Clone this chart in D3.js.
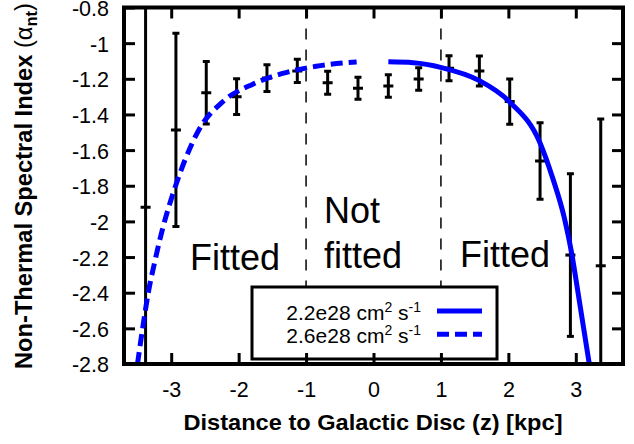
<!DOCTYPE html>
<html><head><meta charset="utf-8">
<script src="https://cdn.jsdelivr.net/npm/d3@7"></script>
<style>
html,body{margin:0;padding:0;background:#fff;}
svg{display:block;font-family:"Liberation Sans",Arial,Helvetica,sans-serif;}
</style>
</head><body>
<svg id="chart" width="634" height="444"></svg>
<script>
// ---- data ----
const zPos      = [-3.38, -2.93, -2.48, -2.03, -1.58, -1.13, -0.68, -0.23, 0.22, 0.67, 1.12, 1.57, 2.02, 2.47, 2.92, 3.37];
const alphaVal  = [-1.92, -1.487, -1.278, -1.300, -1.196, -1.156, -1.222, -1.253, -1.240, -1.201, -1.141, -1.156, -1.328, -1.661, -2.189, -2.249];
const alphaErr  = [1.20, 0.542, 0.175, 0.100, 0.075, 0.065, 0.065, 0.062, 0.063, 0.063, 0.070, 0.084, 0.127, 0.215, 0.456, 0.823];

// model curves
const fit22z = [0.22, 0.59, 1.01, 1.57, 2.02, 2.47, 2.66, 2.83, 2.93, 3.05, 3.20];
const fit22a = [-1.105, -1.110, -1.137, -1.210, -1.330, -1.560, -1.760, -1.980, -2.160, -2.440, -2.800];
const fit26z = [-3.50, -3.42, -3.34, -3.24, -3.12, -2.97, -2.80, -2.58, -2.24, -1.79, -1.35, -0.85, -0.25];
const fit26a = [-2.80, -2.59, -2.40, -2.22, -2.03, -1.84, -1.66, -1.48, -1.33, -1.23, -1.17, -1.13, -1.105];

const xTicks = [-3, -2, -1, 0, 1, 2, 3];
const yTicks = [-0.8, -1, -1.2, -1.4, -1.6, -1.8, -2, -2.2, -2.4, -2.6, -2.8];
const regionBounds = [-1, 1];
const legendLabels = ["2.2e28", "2.6e28"];

// ---- layout ----
const L = 124, R = 623, T = 7.5, B = 364;
const svg = d3.select("#chart");
const x = d3.scaleLinear().domain([-3.7, 3.7]).range([L, R]);
const y = d3.scaleLinear().domain([-2.8, -0.8]).range([B, T]);

svg.append("defs").append("clipPath").attr("id", "clip")
  .append("rect").attr("x", L).attr("y", T).attr("width", R - L).attr("height", B - T);

const plot = svg.append("g").attr("clip-path", "url(#clip)");

// region boundaries
plot.selectAll("line.bound").data(regionBounds).enter().append("line")
  .attr("x1", d => x(d)).attr("x2", d => x(d)).attr("y1", T).attr("y2", B)
  .attr("stroke", "#000").attr("stroke-width", 1.5).attr("stroke-dasharray", "11,10");

// error bars
const pts = zPos.map((z, i) => ({z, a: alphaVal[i], e: alphaErr[i]}));
const eb = plot.selectAll("g.eb").data(pts).enter().append("g")
  .attr("stroke", "#000").attr("stroke-width", 3);
eb.append("line").attr("x1", d => x(d.z)).attr("x2", d => x(d.z))
  .attr("y1", d => y(d.a + d.e)).attr("y2", d => y(d.a - d.e));
eb.append("line").attr("x1", d => x(d.z) - 3.5).attr("x2", d => x(d.z) + 3.5)
  .attr("y1", d => y(d.a + d.e)).attr("y2", d => y(d.a + d.e));
eb.append("line").attr("x1", d => x(d.z) - 3.5).attr("x2", d => x(d.z) + 3.5)
  .attr("y1", d => y(d.a - d.e)).attr("y2", d => y(d.a - d.e));
eb.append("line").attr("x1", d => x(d.z) - 5).attr("x2", d => x(d.z) + 5)
  .attr("y1", d => y(d.a)).attr("y2", d => y(d.a));

// model curves
const line = d3.line().x(d => x(d[0])).y(d => y(d[1])).curve(d3.curveMonotoneX);
plot.append("path").datum(fit26z.map((z, i) => [z, fit26a[i]]))
  .attr("d", line).attr("fill", "none").attr("stroke", "#0000ff")
  .attr("stroke-width", 5).attr("stroke-dasharray", "12,6");
plot.append("path").datum(fit22z.map((z, i) => [z, fit22a[i]]))
  .attr("d", line).attr("fill", "none").attr("stroke", "#0000ff")
  .attr("stroke-width", 5);

// region labels
const big = {size: 36};
svg.append("text").attr("x", 190).attr("y", 270).attr("font-size", big.size).text("Fitted");
svg.append("text").attr("x", 324).attr("y", 223).attr("font-size", big.size).text("Not");
svg.append("text").attr("x", 324).attr("y", 268).attr("font-size", big.size).text("fitted");
svg.append("text").attr("x", 460).attr("y", 267).attr("font-size", big.size).text("Fitted");

// legend
const lg = svg.append("g");
lg.append("rect").attr("x", 252).attr("y", 287).attr("width", 245).attr("height", 72)
  .attr("fill", "#fff").attr("stroke", "#000").attr("stroke-width", 3);
legendLabels.forEach((lab, i) => {
  const by = 320 + i * 23.3;
  const t = lg.append("text").attr("x", 421).attr("y", by).attr("text-anchor", "end").attr("font-size", 21);
  t.append("tspan").text(lab + " cm");
  t.append("tspan").attr("dy", -8).attr("font-size", 14).text("2");
  t.append("tspan").attr("dy", 8).text(" s");
  t.append("tspan").attr("dy", -8).attr("font-size", 14).text("-1");
  lg.append("line").attr("x1", 437).attr("x2", 482).attr("y1", by - 9).attr("y2", by - 9)
    .attr("stroke", "#0000ff").attr("stroke-width", 5)
    .attr("stroke-dasharray", i === 1 ? "12,6" : null);
});

// axes (inward ticks)
const fmt = d => String(+d.toFixed(1));
const axL = svg.append("g").attr("transform", `translate(${L},0)`)
  .call(d3.axisLeft(y).tickValues(yTicks).tickFormat(fmt).tickSize(-11).tickPadding(15));
const axR = svg.append("g").attr("transform", `translate(${R},0)`)
  .call(d3.axisRight(y).tickValues(yTicks).tickFormat("").tickSize(-11));
const axB = svg.append("g").attr("transform", `translate(0,${B})`)
  .call(d3.axisBottom(x).tickValues(xTicks).tickFormat(fmt).tickSize(-11).tickPadding(18));
const axT = svg.append("g").attr("transform", `translate(0,${T})`)
  .call(d3.axisTop(x).tickValues(xTicks).tickFormat("").tickSize(-11));
[axL, axR, axB, axT].forEach(a => {
  a.select(".domain").remove();
  a.selectAll(".tick line").attr("stroke", "#000").attr("stroke-width", 3);
  a.selectAll(".tick text").attr("fill", "#000").attr("font-size", 21.5)
    .attr("font-family", '"Liberation Sans",Arial,sans-serif');
});
axL.selectAll(".tick text").attr("dy", "0.37em");

// frame
svg.append("rect").attr("x", L).attr("y", T).attr("width", R - L).attr("height", B - T)
  .attr("fill", "none").attr("stroke", "#000").attr("stroke-width", 4);

// axis titles
svg.append("text").attr("x", 373).attr("y", 430).attr("text-anchor", "middle")
  .attr("font-size", 22).attr("font-weight", "bold")
  .attr("textLength", 379).attr("lengthAdjust", "spacingAndGlyphs")
  .text("Distance to Galactic Disc (z) [kpc]");

const yl = svg.append("text").attr("transform", "translate(32,186) rotate(-90)")
  .attr("text-anchor", "middle").attr("font-size", 23).attr("font-weight", "bold")
  .attr("textLength", 366).attr("lengthAdjust", "spacingAndGlyphs");
yl.append("tspan").text("Non-Thermal Spectral Index ");
yl.append("tspan").attr("font-weight", "normal").text("(α");
yl.append("tspan").attr("dy", 5).attr("font-size", 16).text("nt");
yl.append("tspan").attr("dy", -5).attr("font-weight", "normal").text(")");
</script>
</body></html>
